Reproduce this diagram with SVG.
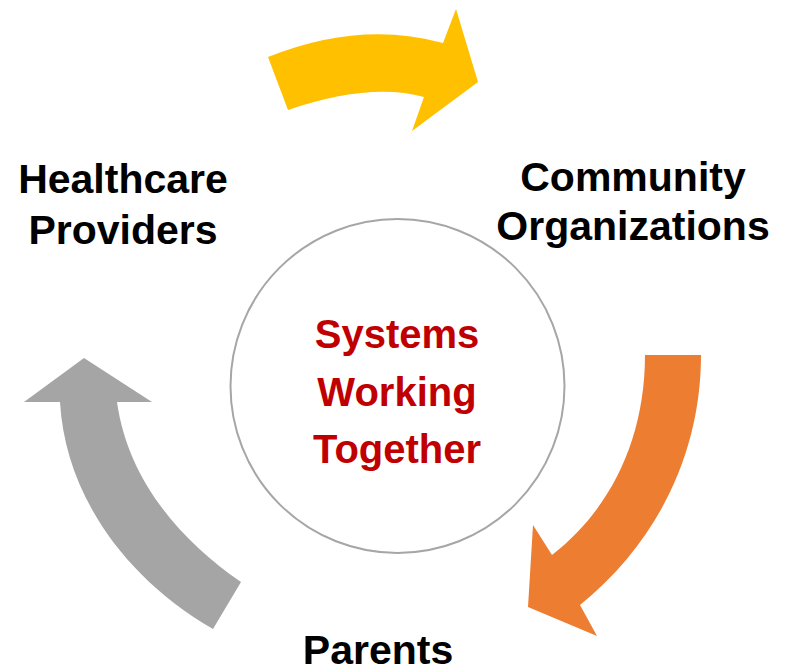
<svg xmlns="http://www.w3.org/2000/svg" width="785" height="670" viewBox="0 0 785 670">
<style>
.lbl{font-family:"Liberation Sans",Arial,sans-serif;font-weight:bold;font-size:41px;fill:#000;text-anchor:middle}
.ctr{font-family:"Liberation Sans",Arial,sans-serif;font-weight:bold;font-size:40px;fill:#c00000;text-anchor:middle}
</style>
<rect width="785" height="670" fill="#fff"/>
<g id="connectors">
<path id="arrow-yellow" fill="#ffc000" d="M268,57 Q360,20 443,43 L456,9 L478,82 L412,131 L424,97 Q370,82 288,110 Z"/>
<path id="arrow-orange" fill="#ed7d31" d="M645,355 L701,355 C701,450 660,540 580,605 L597,636 L528,607 L533,525 L552,555 C610,510 645,440 645,355 Z"/>
<path id="arrow-gray" fill="#a5a5a5" d="M241,582 L213,629 C120,575 65,490 60,402 L24,402 L84,358 L152,402 L117,402 C128,480 180,540 241,582 Z"/>
</g>
<g id="center">
<circle cx="397.5" cy="386" r="167" fill="#fff" stroke="#a6a6a6" stroke-width="2"/>
<text class="ctr" x="397" y="348">Systems</text>
<text class="ctr" x="397" y="406">Working</text>
<text class="ctr" x="397" y="463">Together</text>
</g>
<g id="healthcare">
<text class="lbl" x="123" y="193">Healthcare</text>
<text class="lbl" x="123" y="244">Providers</text>
</g>
<g id="community">
<text class="lbl" x="633" y="191">Community</text>
<text class="lbl" x="633" y="240">Organizations</text>
</g>
<g id="parents">
<text class="lbl" x="378" y="664">Parents</text>
</g>
</svg>
